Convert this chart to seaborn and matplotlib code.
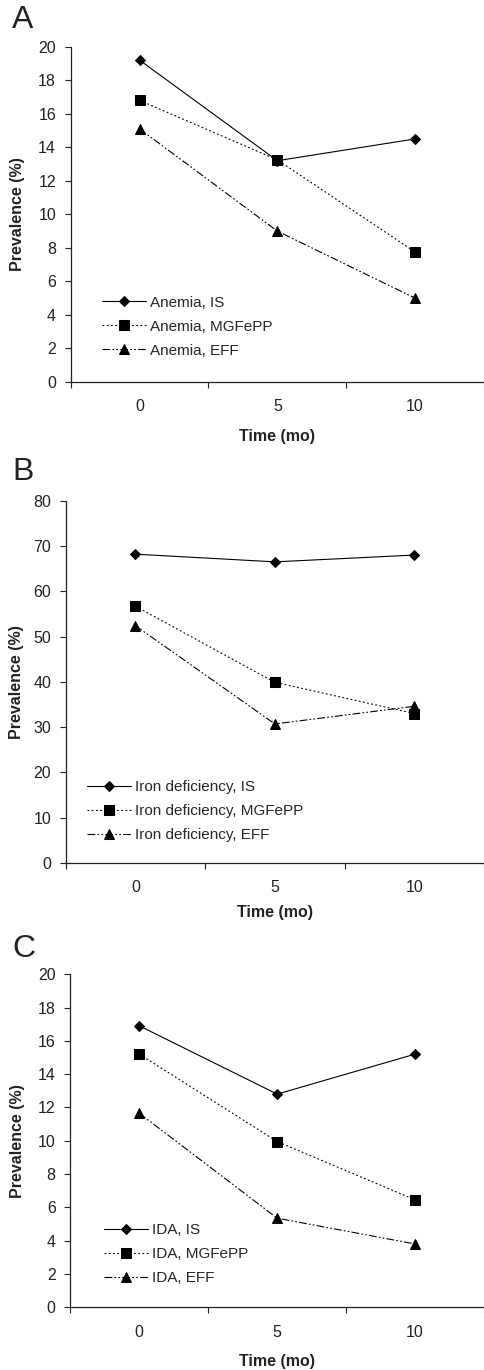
import numpy as np
import pandas as pd
import seaborn as sns
import matplotlib.pyplot as plt
from matplotlib.ticker import FixedLocator, MultipleLocator

# data
time_mo = [0, 5, 10]
groups = ["IS", "MGFePP", "EFF"]

anemia_is = [19.2, 13.2, 14.5]
anemia_mgfepp = [16.8, 13.25, 7.75]
anemia_eff = [15.1, 9.0, 5.0]

iron_is = [68.2, 66.5, 68.0]
iron_mgfepp = [56.7, 39.9, 33.0]
iron_eff = [52.4, 30.7, 34.6]

ida_is = [16.9, 12.8, 15.2]
ida_mgfepp = [15.2, 9.95, 6.45]
ida_eff = [11.65, 5.35, 3.8]

sns.set_theme(style="ticks")
plt.rcParams['font.family'] = ['Liberation Sans', 'DejaVu Sans']

styles = {
    "IS": dict(marker="D", markersize=5.5, linestyle="-"),
    "MGFePP": dict(marker="s", markersize=6.5, linestyle=(0, (1.6, 2.2))),
    "EFF": dict(marker="^", markersize=7.5, linestyle=(0, (7, 2, 1.5, 2, 1.5, 2))),
}

panels = [
    dict(letter="A", name="Anemia", series=[anemia_is, anemia_mgfepp, anemia_eff],
         rect=[0.146, 0.7212, 0.854, 0.2447], ymax=20, ystep=2,
         ylab_x=-0.1106, xlab_y=-0.14, leg=(0.0757, 0.165), letter_y=0.9854),
    dict(letter="B", name="Iron deficiency", series=[iron_is, iron_mgfepp, iron_eff],
         rect=[0.1357, 0.3701, 0.8643, 0.2644], ymax=80, ystep=10,
         ylab_x=-0.0997, xlab_y=-0.117, leg=(0.051, 0.143), letter_y=0.6553),
    dict(letter="C", name="IDA", series=[ida_is, ida_mgfepp, ida_eff],
         rect=[0.1453, 0.0458, 0.8547, 0.2431], ymax=20, ystep=2,
         ylab_x=-0.1095, xlab_y=-0.14, leg=(0.0815, 0.160), letter_y=0.3073),
]

fig = plt.figure(figsize=(4.84, 13.7), dpi=100)
pos = np.arange(len(time_mo))

for p in panels:
    ax = fig.add_axes(p["rect"])
    for g, vals in zip(groups, p["series"]):
        df = pd.DataFrame({"pos": pos, "value": vals})
        sns.lineplot(data=df, x="pos", y="value", ax=ax, color="black",
                     linewidth=0.8, markeredgecolor="black", markerfacecolor="black",
                     label=f"{p['name']}, {g}", **styles[g])

    ax.set_xlim(-0.5, 2.5)
    ax.set_ylim(0, p["ymax"])
    ax.yaxis.set_major_locator(MultipleLocator(p["ystep"]))
    ax.xaxis.set_major_locator(FixedLocator([-0.5, 0.5, 1.5, 2.5]))
    ax.xaxis.set_minor_locator(FixedLocator(pos))
    ax.set_xticklabels([])
    ax.set_xticklabels([str(t) for t in time_mo], minor=True)
    ax.tick_params(axis="x", which="major", direction="out", length=4, width=0.8, color="#222222")
    ax.tick_params(axis="x", which="minor", length=0, pad=12.5, labelsize=11.5, labelcolor="#222222")
    ax.tick_params(axis="y", direction="out", length=4, width=0.8, pad=6.5,
                   labelsize=11.5, labelcolor="#222222", color="#222222")

    for s in ["top", "right"]:
        ax.spines[s].set_visible(False)
    for s in ["left", "bottom"]:
        ax.spines[s].set_linewidth(0.9)
        ax.spines[s].set_color("#222222")

    ax.set_ylabel("Prevalence (%)", fontsize=11.5, fontweight="bold", color="#222222")
    ax.yaxis.set_label_coords(p["ylab_x"], 0.5)
    ax.set_xlabel("Time (mo)", fontsize=11.5, fontweight="bold", color="#222222")
    ax.xaxis.set_label_coords(0.5, p["xlab_y"])

    ax.legend(loc="center left", bbox_to_anchor=p["leg"], frameon=False,
              fontsize=11, handlelength=2.9, handletextpad=0.25,
              labelspacing=0.65, borderpad=0, borderaxespad=0)

    fig.text(0.025, p["letter_y"], p["letter"], fontsize=23, ha="left", va="center",
             color="#222222")

fig.savefig("out.png", dpi=100)
